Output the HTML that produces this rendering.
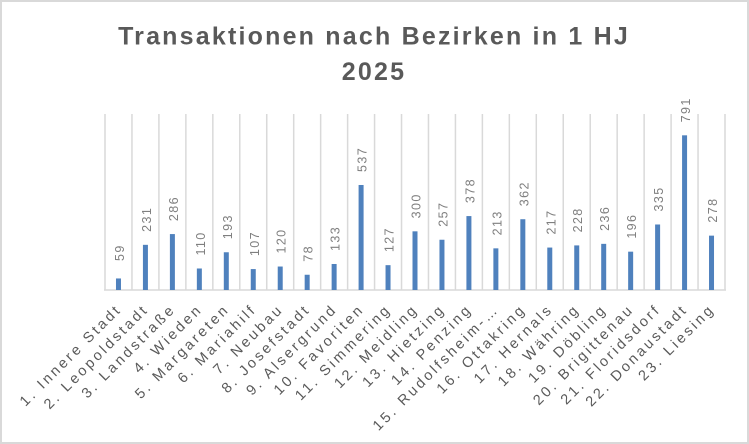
<!DOCTYPE html>
<html>
<head>
<meta charset="utf-8">
<style>
html,body{margin:0;padding:0;background:#fff;}
svg{display:block;}
.t{font-family:"Liberation Sans",sans-serif;font-weight:bold;font-size:25px;letter-spacing:2.2px;fill:#595959;}
.d{font-family:"Liberation Sans",sans-serif;font-size:12.5px;letter-spacing:1.4px;fill:#7f7f7f;}
.c{font-family:"Liberation Sans",sans-serif;font-size:14.5px;letter-spacing:2.8px;fill:#595959;}
</style>
</head>
<body>
<svg width="749" height="444" viewBox="0 0 749 444" xmlns="http://www.w3.org/2000/svg">
<rect x="1" y="1" width="747" height="442" fill="#fff" stroke="#d9d9d9" stroke-width="2"/>
<text class="t" x="374" y="44.5" text-anchor="middle">Transaktionen nach Bezirken in 1 HJ</text>
<text class="t" x="374" y="80" text-anchor="middle">2025</text>

<g stroke="#d9d9d9" stroke-width="1.5">
<line x1="105" y1="114" x2="105" y2="290"/>
<line x1="131.96" y1="114" x2="131.96" y2="290"/>
<line x1="158.91" y1="114" x2="158.91" y2="290"/>
<line x1="185.87" y1="114" x2="185.87" y2="290"/>
<line x1="212.83" y1="114" x2="212.83" y2="290"/>
<line x1="239.78" y1="114" x2="239.78" y2="290"/>
<line x1="266.74" y1="114" x2="266.74" y2="290"/>
<line x1="293.70" y1="114" x2="293.70" y2="290"/>
<line x1="320.65" y1="114" x2="320.65" y2="290"/>
<line x1="347.61" y1="114" x2="347.61" y2="290"/>
<line x1="374.57" y1="114" x2="374.57" y2="290"/>
<line x1="401.52" y1="114" x2="401.52" y2="290"/>
<line x1="428.48" y1="114" x2="428.48" y2="290"/>
<line x1="455.43" y1="114" x2="455.43" y2="290"/>
<line x1="482.39" y1="114" x2="482.39" y2="290"/>
<line x1="509.35" y1="114" x2="509.35" y2="290"/>
<line x1="536.30" y1="114" x2="536.30" y2="290"/>
<line x1="563.26" y1="114" x2="563.26" y2="290"/>
<line x1="590.22" y1="114" x2="590.22" y2="290"/>
<line x1="617.17" y1="114" x2="617.17" y2="290"/>
<line x1="644.13" y1="114" x2="644.13" y2="290"/>
<line x1="671.09" y1="114" x2="671.09" y2="290"/>
<line x1="698.04" y1="114" x2="698.04" y2="290"/>
<line x1="725" y1="114" x2="725" y2="290"/>
<line x1="104" y1="290" x2="726" y2="290"/>
</g>

<g fill="#4f81bd">
<rect x="115.98" y="278.46" width="5" height="11.54"/>
<rect x="142.93" y="244.83" width="5" height="45.17"/>
<rect x="169.89" y="234.07" width="5" height="55.93"/>
<rect x="196.85" y="268.49" width="5" height="21.51"/>
<rect x="223.80" y="252.26" width="5" height="37.74"/>
<rect x="250.76" y="269.08" width="5" height="20.92"/>
<rect x="277.72" y="266.53" width="5" height="23.47"/>
<rect x="304.67" y="274.75" width="5" height="15.25"/>
<rect x="331.63" y="263.99" width="5" height="26.01"/>
<rect x="358.59" y="184.99" width="5" height="105.01"/>
<rect x="385.54" y="265.16" width="5" height="24.84"/>
<rect x="412.50" y="231.33" width="5" height="58.67"/>
<rect x="439.46" y="239.74" width="5" height="50.26"/>
<rect x="466.41" y="216.08" width="5" height="73.92"/>
<rect x="493.37" y="248.35" width="5" height="41.65"/>
<rect x="520.33" y="219.21" width="5" height="70.79"/>
<rect x="547.28" y="247.56" width="5" height="42.44"/>
<rect x="574.24" y="245.41" width="5" height="44.59"/>
<rect x="601.20" y="243.85" width="5" height="46.15"/>
<rect x="628.15" y="251.67" width="5" height="38.33"/>
<rect x="655.11" y="224.49" width="5" height="65.51"/>
<rect x="682.07" y="135.32" width="5" height="154.68"/>
<rect x="709.02" y="235.64" width="5" height="54.36"/>
</g>

<g class="d">
<text transform="translate(123.98,261) rotate(-90)">59</text>
<text transform="translate(150.93,231.83) rotate(-90)">231</text>
<text transform="translate(177.89,221.07) rotate(-90)">286</text>
<text transform="translate(204.85,255.49) rotate(-90)">110</text>
<text transform="translate(231.80,239.26) rotate(-90)">193</text>
<text transform="translate(258.76,256.08) rotate(-90)">107</text>
<text transform="translate(285.72,253.53) rotate(-90)">120</text>
<text transform="translate(312.67,261.75) rotate(-90)">78</text>
<text transform="translate(339.63,250.99) rotate(-90)">133</text>
<text transform="translate(366.59,171.99) rotate(-90)">537</text>
<text transform="translate(393.54,252.16) rotate(-90)">127</text>
<text transform="translate(420.50,218.33) rotate(-90)">300</text>
<text transform="translate(447.46,226.74) rotate(-90)">257</text>
<text transform="translate(474.41,203.08) rotate(-90)">378</text>
<text transform="translate(501.37,235.35) rotate(-90)">213</text>
<text transform="translate(528.33,206.21) rotate(-90)">362</text>
<text transform="translate(555.28,234.56) rotate(-90)">217</text>
<text transform="translate(582.24,232.41) rotate(-90)">228</text>
<text transform="translate(609.20,230.85) rotate(-90)">236</text>
<text transform="translate(636.15,238.67) rotate(-90)">196</text>
<text transform="translate(663.11,211.49) rotate(-90)">335</text>
<text transform="translate(690.07,122.32) rotate(-90)">791</text>
<text transform="translate(717.02,222.64) rotate(-90)">278</text>
</g>

<g class="c" text-anchor="end">
<text transform="translate(122.5,310) rotate(-45)">1. Innere Stadt</text>
<text transform="translate(149.4,310) rotate(-45)">2. Leopoldstadt</text>
<text transform="translate(176.4,310) rotate(-45)">3. Landstraße</text>
<text transform="translate(203.3,310) rotate(-45)">4. Wieden</text>
<text transform="translate(230.3,310) rotate(-45)">5. Margareten</text>
<text transform="translate(257.3,310) rotate(-45)">6. Mariahilf</text>
<text transform="translate(284.2,310) rotate(-45)">7. Neubau</text>
<text transform="translate(311.2,310) rotate(-45)">8. Josefstadt</text>
<text transform="translate(338.1,310) rotate(-45)">9. Alsergrund</text>
<text transform="translate(365.1,310) rotate(-45)">10. Favoriten</text>
<text transform="translate(392.0,310) rotate(-45)">11. Simmering</text>
<text transform="translate(419.0,310) rotate(-45)">12. Meidling</text>
<text transform="translate(446.0,310) rotate(-45)">13. Hietzing</text>
<text transform="translate(472.9,310) rotate(-45)">14. Penzing</text>
<text transform="translate(499.9,310) rotate(-45)">15. Rudolfsheim-…</text>
<text transform="translate(526.8,310) rotate(-45)">16. Ottakring</text>
<text transform="translate(553.8,310) rotate(-45)">17. Hernals</text>
<text transform="translate(580.7,310) rotate(-45)">18. Währing</text>
<text transform="translate(607.7,310) rotate(-45)">19. Döbling</text>
<text transform="translate(634.7,310) rotate(-45)">20. Brigittenau</text>
<text transform="translate(661.6,310) rotate(-45)">21. Floridsdorf</text>
<text transform="translate(688.6,310) rotate(-45)">22. Donaustadt</text>
<text transform="translate(715.5,310) rotate(-45)">23. Liesing</text>
</g>
</svg>
</body>
</html>
